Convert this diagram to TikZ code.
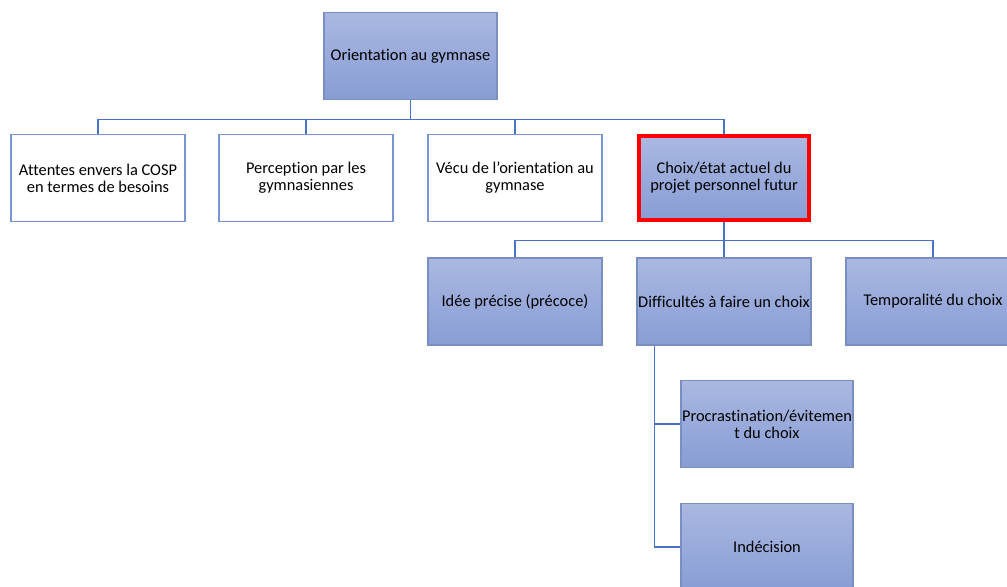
\documentclass[tikz,border=0pt]{standalone}
\usepackage{fontspec}
\setmainfont{Carlito}[RawFeature=-liga]
\definecolor{boxtop}{RGB}{170,184,225}
\definecolor{boxbot}{RGB}{136,157,213}
\definecolor{boxedge}{RGB}{122,142,196}
\definecolor{linkblue}{RGB}{72,114,196}
\definecolor{plainedge}{RGB}{120,150,214}
\tikzset{
  unit/.style={rectangle,minimum width=130.5pt,minimum height=65.25pt,
    align=center,font=\fontsize{12.3}{12.6}\selectfont,inner sep=0pt},
  shadebox/.style={unit,draw=boxedge,line width=.9pt,top color=boxtop,bottom color=boxbot},
  plainbox/.style={unit,draw=plainedge,line width=1.1pt,fill=white},
  focusbox/.style={unit,draw=red,line width=2.3pt,top color=boxtop,bottom color=boxbot},
  link/.style={draw=linkblue,line width=.8pt}
}
\begin{document}
\begin{tikzpicture}[x=0.75pt,y=-0.75pt]
  \useasboundingbox (0,0) rectangle (1007,586);
  \clip (0,0) rectangle (1007,586);

  % top level
  \node[shadebox,minimum width=129.75pt] (orient) at (410.5,56) {Orientation au gymnase};

  % second level
  \node[plainbox] (attentes) at (98,178) {Attentes envers la COSP\\en termes de besoins};
  \node[plainbox] (percep) at (306,178) {Perception par les\\gymnasiennes};
  \node[plainbox] (vecu) at (515,178) {Vécu de l’orientation au\\gymnase};
  \node[focusbox,minimum width=127.5pt,minimum height=63pt] (choix) at (724,178) {Choix/état actuel du\\projet personnel futur};

  % third level
  \node[shadebox] (idee) at (515,301.5) {Idée précise (précoce)};
  \node[shadebox] (diff) at (724,301.5) {Difficultés à faire un choix};
  \node[shadebox] (tempo) at (933,301.5) {Temporalité du choix};

  % under Difficultés
  \node[shadebox,minimum width=129pt] (procr) at (767,424) {Procrastination/évitemen\\t du choix};
  \node[shadebox,minimum width=129pt] (indec) at (767,547) {Indécision};

  % connectors
  \foreach \kid in {attentes,percep,vecu,choix}
    \draw[link] (orient.south) -- ++(0,19) -| (\kid.north);
  \foreach \kid in {idee,diff,tempo}
    \draw[link] (choix.south) -- ++(0,19) -| (\kid.north);
  \coordinate (diffleg) at ([xshift=13.5pt]diff.south west);
  \draw[link] (diffleg) |- (procr.west);
  \draw[link] (diffleg) |- (indec.west);
\end{tikzpicture}
\end{document}
